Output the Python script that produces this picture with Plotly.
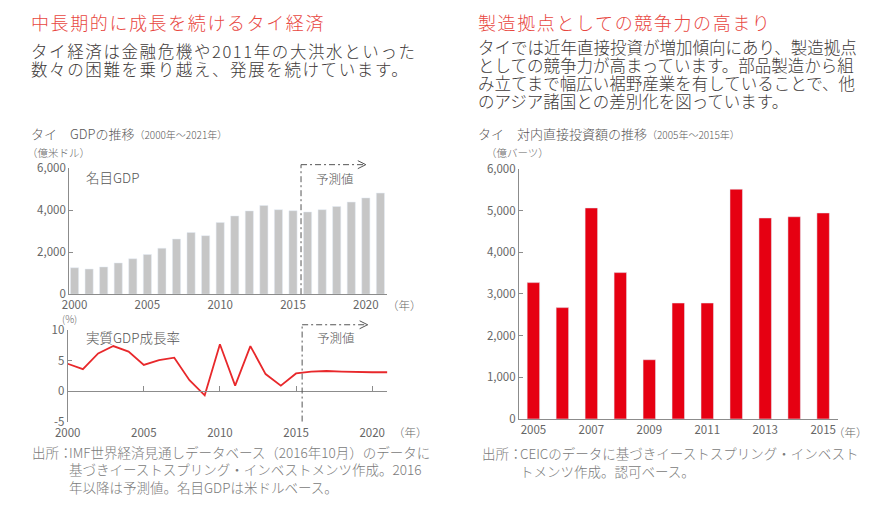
import plotly.graph_objects as go

# ---------------- data ----------------
gdp_years = list(range(2000, 2022))
gdp_values = [1260, 1200, 1300, 1490, 1690, 1890, 2190, 2630, 2940, 2790, 3420,
              3730, 3970, 4230, 4030, 3980, 3920, 4030, 4180, 4390, 4590, 4820]
growth_years = list(range(2000, 2022))
growth_values = [4.5, 3.6, 6.2, 7.4, 6.5, 4.3, 5.1, 5.5, 1.8, -0.7, 7.7,
                 0.9, 7.4, 2.8, 0.9, 2.9, 3.2, 3.3, 3.2, 3.1, 3.1, 3.1]
fdi_years = list(range(2005, 2016))
fdi_values = [3270, 2670, 5060, 3510, 1420, 2780, 2780, 5510, 4820, 4850, 4940]

gdp_yticks = [0, 2000, 4000, 6000]
growth_yticks = [-5, 0, 5, 10]
growth_yticktext = ["-5", "0", "5", "10"]
fdi_yticks = [0, 1000, 2000, 3000, 4000, 5000, 6000]
year_ticks_5 = [2000, 2005, 2010, 2015, 2020]
fdi_xticks = [2005, 2007, 2009, 2011, 2013, 2015]

W, H = 880, 507
FONT = "Noto Sans CJK JP"
RED_T = "#e8473f"
RED = "#e60012"
GRAY_AX = "#8c8c8c"
GRAY_TX = "#666666"
DARK = "#3e3a39"


def fx(px):
    return px / W


def fy(py):
    return 1 - py / H


fig = go.Figure()

fig.add_trace(go.Bar(x=gdp_years, y=gdp_values, marker_color="#c6c6c6",
                     width=0.56, xaxis="x", yaxis="y", showlegend=False))
fig.add_trace(go.Scatter(x=growth_years, y=growth_values, mode="lines",
                         line=dict(color="#e8282b", width=1.8),
                         xaxis="x2", yaxis="y2", showlegend=False, cliponaxis=False))
fig.add_trace(go.Bar(x=fdi_years, y=fdi_values, marker_color=RED,
                     width=0.43, xaxis="x3", yaxis="y3", showlegend=False))

tickfont = dict(family=FONT, size=11.5, color=GRAY_TX)

# domains
d1y = [fy(294.5), fy(164.5)]
d2y = [fy(426), fy(331.7)]
zero_pos = d2y[0] + (0 - (-5)) / 15 * (d2y[1] - d2y[0])

fig.update_layout(
    width=W, height=H,
    margin=dict(l=0, r=0, t=0, b=0),
    paper_bgcolor="white", plot_bgcolor="white",
    font=dict(family=FONT),
    xaxis=dict(domain=[fx(57), fx(380)], range=[1999.63, 2021.48], anchor="y",
               showline=True, linecolor=GRAY_AX, linewidth=1, showgrid=False,
               zeroline=False, ticks="", tickvals=year_ticks_5, tickfont=tickfont),
    yaxis=dict(domain=d1y, range=[0, 6000], anchor="x",
               showline=True, linecolor=GRAY_AX, linewidth=1, showgrid=False,
               zeroline=False, ticks="inside", ticklen=4, tickcolor=GRAY_AX,
               tickvals=gdp_yticks, tickformat=",d", tickfont=tickfont),
    xaxis2=dict(domain=[fx(55.5), fx(380)], range=[2000, 2021], anchor="free",
                position=zero_pos,
                showline=True, linecolor=GRAY_AX, linewidth=1, showgrid=False,
                zeroline=False, ticks="inside", ticklen=5, tickcolor=GRAY_AX,
                tickvals=year_ticks_5, tickfont=tickfont, ticklabelstandoff=31),
    yaxis2=dict(domain=d2y, range=[-5, 10], anchor="x2",
                showline=True, linecolor=GRAY_AX, linewidth=1, showgrid=False,
                zeroline=False, ticks="inside", ticklen=4, tickcolor=GRAY_AX,
                tickvals=growth_yticks, ticktext=growth_yticktext, tickfont=tickfont),
    xaxis3=dict(domain=[fx(513.5), fx(837)], range=[2004.5, 2015.5], anchor="y3",
                showline=True, linecolor=GRAY_AX, linewidth=1, showgrid=False,
                zeroline=False, ticks="", tickvals=fdi_xticks, tickfont=tickfont),
    yaxis3=dict(domain=[fy(423.3), fy(165)], range=[0, 6000], anchor="x3",
                showline=True, linecolor=GRAY_AX, linewidth=1, showgrid=False,
                zeroline=False, ticks="inside", ticklen=4, tickcolor=GRAY_AX,
                tickvals=fdi_yticks, tickformat=",d", tickfont=tickfont),
)

# forecast markers (dash-dot line + open arrow)
DASH = "6px,3px,2px,3px"
for xr, yr, xv, ytop, xend in [("x", "y domain", 2015.55, 1.029, 2020.0),
                               ("x2", "y2 domain", 2015.4, 1.06, 2019.7)]:
    fig.add_shape(type="line", xref=xr, yref=yr, x0=xv, x1=xv, y0=0, y1=ytop,
                  line=dict(color="#555555", width=1, dash=DASH))
    fig.add_shape(type="line", xref=xr, yref=yr, x0=xv, x1=xend, y0=ytop, y1=ytop,
                  line=dict(color="#555555", width=1, dash=DASH))
    fig.add_shape(type="path", xref=xr, yref=yr, xsizemode="pixel", ysizemode="pixel",
                  xanchor=xend, yanchor=ytop, path="M -8 -4 L 0 0 L -8 4",
                  line=dict(color="#555555", width=1))


def txt(text, x, y, size, color, xanchor="left"):
    fig.add_annotation(text=text, x=fx(x), y=fy(y), xref="paper", yref="paper",
                       xanchor=xanchor, yanchor="middle", showarrow=False,
                       font=dict(family=FONT, size=size, color=color, weight=300))


LS = '<span style="letter-spacing:1.6px">{}</span>'
# left header
txt(LS.format("中長期的に成長を続けるタイ経済"), 16, 13.5, 18, RED_T)
txt(LS.format("タイ経済は金融危機や2011年の大洪水といった"), 16, 43, 16.5, DARK)
txt(LS.format("数々の困難を乗り越え、発展を続けています。"), 16, 61.5, 16.5, DARK)
# right header
txt(LS.format("製造拠点としての競争力の高まり"), 470, 13.5, 18, RED_T)
for i, line in enumerate(["タイでは近年直接投資が増加傾向にあり、製造拠点",
                          "としての競争力が高まっています。部品製造から組",
                          "み立てまで幅広い裾野産業を有していることで、他",
                          "のアジア諸国との差別化を図っています。"]):
    txt(line, 470, 39.3 + i * 18.6, 16.5, DARK)

# chart titles
txt('タイ　GDPの推移<span style="font-size:10px">（2000年～2021年）</span>', 16, 128.5, 13, "#595757")
txt("（億米ドル）", 12, 148.5, 10.5, GRAY_TX)
txt("名目GDP", 72, 173, 13.5, "#555555")
txt("予測値", 327, 175, 12.5, "#555555", "center")
txt("（年）", 397, 305.5, 11.5, GRAY_TX, "center")
txt("(%)", 57, 320, 10, GRAY_TX, "center")
txt("実質GDP成長率", 72, 339, 13.5, "#555555")
txt("予測値", 328, 339, 12.5, "#555555", "center")
txt("（年）", 403, 437, 11.5, GRAY_TX, "center")

txt('タイ　対内直接投資額の推移<span style="font-size:10px">（2005年～2015年）</span>', 470, 128.5, 13, "#595757")
txt("（億バーツ）", 478, 148.5, 10.5, GRAY_TX)
txt("（年）", 850, 437, 11.5, GRAY_TX, "center")

# sources
SRC = "#7a7a7a"
txt("出所：", 17, 457, 13.5, SRC)
for i, line in enumerate(["IMF世界経済見通しデータベース（2016年10月）のデータに",
                          "基づきイーストスプリング・インベストメンツ作成。2016",
                          "年以降は予測値。名目GDPは米ドルベース。"]):
    txt(line, 55, 457 + i * 18.3, 13.5, SRC)
txt("出所：", 474, 458, 13.5, SRC)
for i, line in enumerate(["CEICのデータに基づきイーストスプリング・インベスト",
                          "トメンツ作成。認可ベース。"]):
    txt(line, 513, 458 + i * 18.7, 13.5, SRC)

fig.write_html("out.html", config={"displayModeBar": False},
               post_script="document.body.style.margin='0px';document.body.style.padding='0px';")
